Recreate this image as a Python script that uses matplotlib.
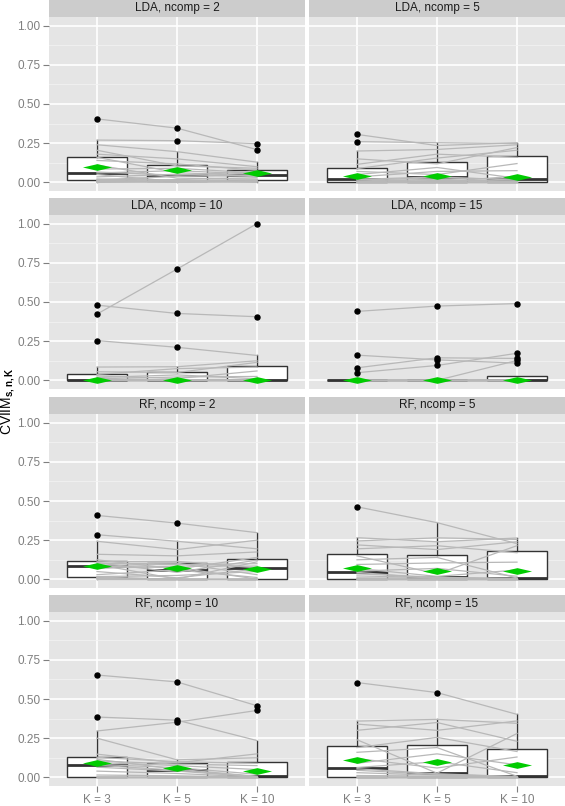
import matplotlib
matplotlib.use("Agg")
import matplotlib.pyplot as plt
from matplotlib.path import Path

plt.rcParams['font.family'] = ['Liberation Sans', 'DejaVu Sans']
plt.rcParams['mathtext.fontset'] = 'custom'
plt.rcParams['mathtext.rm'] = 'Liberation Sans'
plt.rcParams['mathtext.bf'] = 'Liberation Sans:bold'

# K levels shown on the x axis
k_labels = ["K = 3", "K = 5", "K = 10"]

# CVIIM per dataset (20 datasets), one list per K, for every panel
lda2_k3 = [0.405, 0.270, 0.240, 0.205, 0.180, 0.160, 0.140, 0.110, 0.085, 0.066, 0.060, 0.050, 0.035, 0.022, 0.016, 0.013, 0.010, 0.006, 0.003, 0.000]
lda2_k5 = [0.346, 0.266, 0.196, 0.105, 0.150, 0.062, 0.118, 0.027, 0.090, 0.046, 0.075, 0.005, 0.052, 0.012, 0.038, 0.000, 0.018, 0.009, 0.008, 0.002]
lda2_k10 = [0.209, 0.247, 0.129, 0.090, 0.100, 0.042, 0.077, 0.021, 0.060, 0.068, 0.052, 0.003, 0.037, 0.015, 0.046, 0.006, 0.030, 0.000, 0.011, 0.009]

lda5_k3 = [0.306, 0.260, 0.200, 0.150, 0.115, 0.088, 0.070, 0.050, 0.035, 0.023, 0.019, 0.015, 0.009, 0.004, 0.001, 0, 0, 0, 0, 0]
lda5_k5 = [0.235, 0.253, 0.210, 0.118, 0.180, 0.155, 0.050, 0.095, 0.070, 0.002, 0.035, 0.029, 0.020, 0.012, 0.006, 0, 0, 0, 0, 0]
lda5_k10 = [0.253, 0.248, 0.240, 0.222, 0.160, 0.205, 0.120, 0.026, 0.075, 0.040, 0.014, 0.020, 0.004, 0.009, 0, 0.001, 0, 0, 0, 0]

lda10_k3 = [0.423, 0.480, 0.254, 0.085, 0.055, 0.038, 0.028, 0.018, 0.010, 0.006, 0.004, 0.002, 0, 0, 0, 0, 0, 0, 0, 0]
lda10_k5 = [0.710, 0.427, 0.211, 0.087, 0.050, 0.075, 0.012, 0.035, 0.022, 0, 0.006, 0.004, 0.002, 0, 0, 0, 0, 0, 0, 0]
lda10_k10 = [1.000, 0.406, 0.159, 0.125, 0.115, 0.085, 0.060, 0.010, 0.025, 0.005, 0, 0.003, 0.002, 0, 0, 0, 0, 0, 0, 0]

lda15_k3 = [0.440, 0.161, 0.080, 0.049, 0, 0, 0, 0, 0, 0, 0, 0, 0, 0, 0, 0, 0, 0, 0, 0]
lda15_k5 = [0.474, 0.131, 0.144, 0.095, 0, 0, 0, 0, 0, 0, 0, 0, 0, 0, 0, 0, 0, 0, 0, 0]
lda15_k10 = [0.490, 0.110, 0.140, 0.173, 0.127, 0.004, 0, 0, 0, 0, 0, 0, 0, 0, 0, 0, 0, 0, 0, 0]

rf2_k3 = [0.408, 0.285, 0.243, 0.160, 0.125, 0.112, 0.106, 0.100, 0.095, 0.090, 0.084, 0.070, 0.050, 0.030, 0.018, 0.014, 0.011, 0.008, 0.004, 0.000]
rf2_k5 = [0.359, 0.243, 0.190, 0.150, 0.066, 0.115, 0.045, 0.103, 0.002, 0.095, 0.075, 0.085, 0.010, 0.060, 0.025, 0, 0, 0, 0, 0]
rf2_k10 = [0.298, 0.195, 0.250, 0.175, 0.140, 0.074, 0.123, 0.030, 0.112, 0.100, 0.002, 0.085, 0.066, 0.012, 0.050, 0, 0, 0, 0, 0]

rf5_k3 = [0.463, 0.266, 0.245, 0.220, 0.195, 0.150, 0.125, 0.095, 0.070, 0.053, 0.045, 0.035, 0.022, 0.010, 0.003, 0, 0, 0, 0, 0]
rf5_k5 = [0.362, 0.240, 0.265, 0.190, 0.215, 0.035, 0.140, 0.105, 0.019, 0.070, 0.004, 0.015, 0.012, 0.008, 0, 0.001, 0, 0, 0, 0]
rf5_k10 = [0.228, 0.264, 0.255, 0.240, 0.170, 0.215, 0.009, 0.110, 0.060, 0.020, 0.007, 0, 0.006, 0.004, 0.002, 0, 0, 0, 0, 0]

rf10_k3 = [0.653, 0.385, 0.296, 0.250, 0.148, 0.128, 0.115, 0.105, 0.095, 0.083, 0.077, 0.065, 0.040, 0.015, 0.002, 0, 0, 0, 0, 0]
rf10_k5 = [0.609, 0.365, 0.352, 0.112, 0.093, 0.100, 0.052, 0.085, 0.075, 0.062, 0.046, 0.040, 0.025, 0.010, 0.002, 0, 0, 0, 0, 0]
rf10_k10 = [0.457, 0.235, 0.427, 0.125, 0.150, 0.090, 0.007, 0.075, 0.050, 0.020, 0.005, 0.004, 0.002, 0.001, 0, 0, 0, 0, 0, 0]

rf15_k3 = [0.605, 0.359, 0.340, 0.300, 0.240, 0.190, 0.160, 0.120, 0.090, 0.063, 0.055, 0.045, 0.030, 0.012, 0.002, 0, 0, 0, 0, 0]
rf15_k5 = [0.541, 0.370, 0.300, 0.350, 0.027, 0.255, 0.190, 0.060, 0.150, 0.100, 0.023, 0.019, 0.014, 0.008, 0.002, 0, 0, 0, 0, 0]
rf15_k10 = [0.402, 0.345, 0.360, 0.230, 0.280, 0.165, 0.007, 0.130, 0.080, 0.030, 0.005, 0.004, 0.002, 0.001, 0, 0, 0, 0, 0, 0]

# global CVIIM estimates (green diamonds)
lda2_glob = [0.099, 0.080, 0.059]
lda5_glob = [0.038, 0.038, 0.036]
lda10_glob = [0.0, 0.0, 0.0]
lda15_glob = [0.0, 0.0, 0.0]
rf2_glob = [0.087, 0.074, 0.066]
rf5_glob = [0.070, 0.055, 0.053]
rf10_glob = [0.091, 0.059, 0.038]
rf15_glob = [0.112, 0.099, 0.080]

panel_titles = ["LDA, ncomp = 2", "LDA, ncomp = 5", "LDA, ncomp = 10", "LDA, ncomp = 15",
                "RF, ncomp = 2", "RF, ncomp = 5", "RF, ncomp = 10", "RF, ncomp = 15"]
panel_data = [
    ((lda2_k3, lda2_k5, lda2_k10), lda2_glob),
    ((lda5_k3, lda5_k5, lda5_k10), lda5_glob),
    ((lda10_k3, lda10_k5, lda10_k10), lda10_glob),
    ((lda15_k3, lda15_k5, lda15_k10), lda15_glob),
    ((rf2_k3, rf2_k5, rf2_k10), rf2_glob),
    ((rf5_k3, rf5_k5, rf5_k10), rf5_glob),
    ((rf10_k3, rf10_k5, rf10_k10), rf10_glob),
    ((rf15_k3, rf15_k5, rf15_k10), rf15_glob),
]

W, H = 565, 806
fig = plt.figure(figsize=(W / 100, H / 100), dpi=100)


def px_axes(x0, y0, w, h):
    return fig.add_axes([x0 / W, 1 - (y0 + h) / H, w / W, h / H])


# flat diamond marker
diamond = Path([(-1, 0), (0, 0.23), (1, 0), (0, -0.23), (-1, 0)],
               [Path.MOVETO, Path.LINETO, Path.LINETO, Path.LINETO, Path.CLOSEPOLY])

col_x = [49, 309]
panel_w = 256
row_top = [17, 215, 414, 612]
panel_h = 174
strip_h = 17
tick_grey = '#7F7F7F'
box_col = '#333333'

for idx, (title, (series, glob)) in enumerate(zip(panel_titles, panel_data)):
    row, col = divmod(idx, 2)
    x0, y0 = col_x[col], row_top[row]

    # strip
    sax = px_axes(x0, y0 - strip_h, panel_w, strip_h)
    sax.set_facecolor('#CCCCCC')
    sax.set_xticks([])
    sax.set_yticks([])
    for s in sax.spines.values():
        s.set_visible(False)
    sax.text(0.5, 0.5, title, ha='center', va='center', fontsize=8.5, color='#1A1A1A',
             transform=sax.transAxes)

    ax = px_axes(x0, y0, panel_w, panel_h)
    ax.set_facecolor('#E5E5E5')

    bp = ax.boxplot(list(series), positions=[1, 2, 3], widths=0.75, patch_artist=True,
                    whis=1.5, showcaps=False,
                    boxprops=dict(facecolor='white', edgecolor=box_col, lw=1.0),
                    medianprops=dict(color=box_col, lw=2.0),
                    whiskerprops=dict(color=box_col, lw=1.0),
                    flierprops=dict(marker='o', markerfacecolor='black',
                                    markeredgecolor='black', markersize=3.6),
                    zorder=2)
    for f in bp['fliers']:
        f.set_zorder(5)

    k3, k5, k10 = series
    for a, b, c in zip(k3, k5, k10):
        ax.plot([1, 2, 3], [a, b, c], color='#B8B8B8', lw=0.9, zorder=3)

    ax.plot([1, 2, 3], glob, ls='none', marker=diamond, ms=21, color='#00CC00',
            mec='none', zorder=6)

    ax.set_xlim(0.4, 3.6)
    ax.set_ylim(-0.055, 1.055)
    ax.set_yticks([0, 0.25, 0.5, 0.75, 1.0])
    ax.set_yticklabels(["0.00", "0.25", "0.50", "0.75", "1.00"])
    ax.set_yticks([0.125, 0.375, 0.625, 0.875], minor=True)
    ax.set_xticks([1, 2, 3])
    ax.set_xticklabels(k_labels)
    ax.grid(which='major', color='white', lw=1.2, zorder=0)
    ax.grid(which='minor', axis='y', color='#F2F2F2', lw=0.6, zorder=0)
    ax.set_axisbelow(True)
    for s in ax.spines.values():
        s.set_visible(False)
    ax.tick_params(which='minor', length=0)
    ax.tick_params(which='major', color=tick_grey, labelcolor=tick_grey, labelsize=8.5,
                   length=4, width=0.8, pad=2)
    if col != 0:
        ax.tick_params(axis='y', length=0, labelleft=False)
    if row != 3:
        ax.tick_params(axis='x', length=0, labelbottom=False)

fig.text(8 / W, 1 - 401 / H, r'CVIIM$_{\mathbf{s,n,K}}$', rotation=90, ha='center',
         va='center', fontsize=10, color='black')

fig.savefig('out.png', dpi=100)
